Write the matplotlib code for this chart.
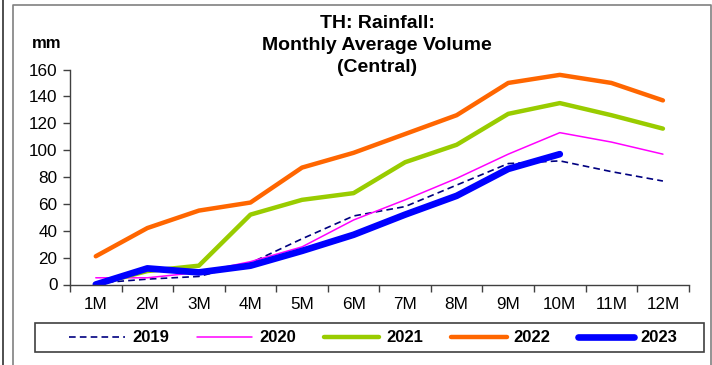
import matplotlib
matplotlib.use("Agg")
import matplotlib.pyplot as plt
from matplotlib.lines import Line2D
from matplotlib.patches import Rectangle

plt.rcParams['font.family'] = ['Liberation Sans', 'DejaVu Sans']

months = ["1M", "2M", "3M", "4M", "5M", "6M", "7M", "8M", "9M", "10M", "11M", "12M"]
y2019 = [1, 4, 6, 16, 34, 51, 58, 74, 90, 92, 84, 77]
y2020 = [5, 5, 9, 17, 28, 48, 63, 79, 97, 113, 106, 97]
y2021 = [0, 10, 14, 52, 63, 68, 91, 104, 127, 135, 126, 116]
y2022 = [21, 42, 55, 61, 87, 98, 112, 126, 150, 156, 150, 137]
y2023 = [0, 12, 9, 14, 25, 37, 52, 66, 86, 97]
yticks = [0, 20, 40, 60, 80, 100, 120, 140, 160]

W, H = 712, 365
fig = plt.figure(figsize=(W / 100, H / 100), dpi=100)
ax = fig.add_axes([70 / W, 1 - 284.5 / H, (688.7 - 70) / W, (284.5 - 69.5) / H])

x = list(range(len(months)))
series = [
    ("2019", y2019, dict(color="#000080", lw=1.2, dashes=(4, 2.5))),
    ("2020", y2020, dict(color="#FF00FF", lw=1.1)),
    ("2021", y2021, dict(color="#99CC00", lw=3.2)),
    ("2022", y2022, dict(color="#FF6600", lw=3.2)),
    ("2023", y2023, dict(color="#0000FF", lw=4.8)),
]
handles = []
for name, vals, st in series:
    ln, = ax.plot(x[:len(vals)], vals, label=name, solid_capstyle="round", **st)
    handles.append(ln)

ax.set_xlim(-0.5, len(months) - 0.5)
ax.set_ylim(0, 160)
ax.set_yticks(yticks)
ax.set_yticklabels([str(v) for v in yticks], fontsize=12.3)
ax.set_xticks(x)
ax.set_xticklabels(months, fontsize=12.3)
ax.set_xticks([i - 0.5 for i in range(len(months) + 1)], minor=True)
ax.tick_params(axis="x", which="major", length=0, pad=9)
ax.tick_params(axis="x", which="minor", length=5, width=1, color="#404040")
ax.tick_params(axis="y", length=5, width=1, color="#404040", pad=4)
for s in ["top", "right"]:
    ax.spines[s].set_visible(False)
for s in ["left", "bottom"]:
    ax.spines[s].set_color("#404040")
    ax.spines[s].set_linewidth(1)
ax.set_facecolor("none")

tkw = dict(ha="center", va="center", fontsize=14, fontweight="bold")
fig.text(377 / W, 1 - 24 / H, "TH: Rainfall:", **tkw)
fig.text(377 / W, 1 - 46 / H, "Monthly Average Volume", **tkw)
fig.text(377 / W, 1 - 68 / H, "(Central)", **tkw)
fig.text(47 / W, 1 - 43 / H, "mm", ha="center", va="center", fontsize=12, fontweight="bold")

# frame lines
fig.add_artist(Line2D([2.5 / W, 2.5 / W], [0, 1], color="#303030", lw=1.2, transform=fig.transFigure))
fig.add_artist(Line2D([12.5 / W, 12.5 / W, 711 / W, 711 / W], [0, 1 - 5 / H, 1 - 5 / H, 0],
                      color="#808080", lw=1.2, transform=fig.transFigure))

# legend box
lx0, lx1, ly0, ly1 = 34.5, 704.3, 352.3, 323.3
fig.add_artist(Rectangle((lx0 / W, 1 - ly0 / H), (lx1 - lx0) / W, (ly0 - ly1) / H,
                         transform=fig.transFigure, fill=False, edgecolor="#404040", lw=1.2))
leg = fig.legend(handles=handles, loc="center", bbox_to_anchor=(373.5 / W, 1 - 338 / H),
                 ncol=5, frameon=False, handlelength=3.35, handletextpad=0.42,
                 columnspacing=1.65, prop=dict(size=12, weight="bold"),
                 borderpad=0.0, borderaxespad=0)

fig.savefig("out.png", dpi=100)
